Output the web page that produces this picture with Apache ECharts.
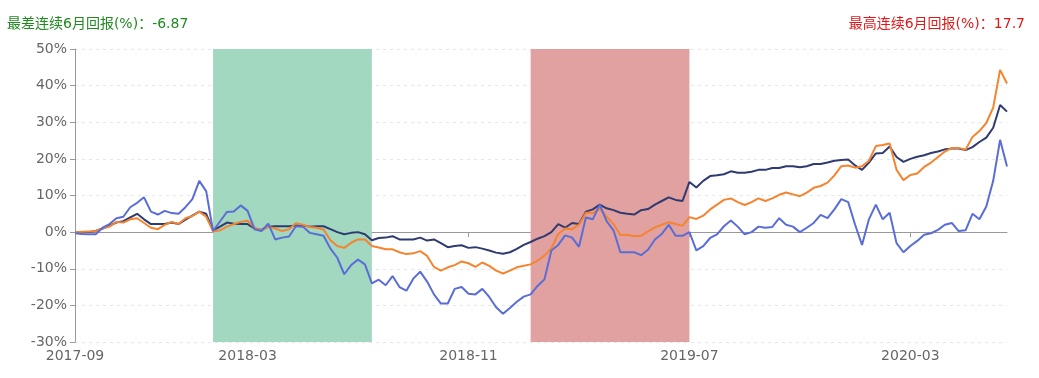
<!DOCTYPE html>
<html>
<head>
<meta charset="utf-8">
<script src="https://cdn.jsdelivr.net/npm/echarts@6/dist/echarts.min.js"></script>
<style>
  html, body { margin: 0; padding: 0; background: #fff; }
  #chart { width: 1039px; height: 378px; }
</style>
</head>
<body>
<div id="chart"></div>
<script>
// weekly sample dates (category axis)
const dates = [];
(function () {
  const d = new Date(Date.UTC(2017, 8, 22));
  for (let i = 0; i < 136; i++) {
    dates.push(d.toISOString().slice(0, 10));
    d.setUTCDate(d.getUTCDate() + 7);
  }
})();

// x-axis tick labels and the category index where each sits
const tickIdx = [0, 25, 57, 89, 121];
const tickLabels = ['2017-09', '2018-03', '2018-11', '2019-07', '2020-03'];

// shaded periods (category indices)
const worstRange = [20, 43];
const bestRange = [66, 89];

const worstText = '最差连续6月回报(%)：-6.87';
const bestText = '最高连续6月回报(%)：17.7';

// cumulative return, %
const navy = [
  0, -0.1, 0, 0.3, 1, 1.8, 2.6, 3, 4, 5, 3.5, 2.2, 2.2, 2.2, 2.6, 2.2, 3.4, 4.5, 5.6, 5,
  0.5, 1.5, 2.6, 2.3, 2.2, 2.2, 1, 0.6, 1.5, 1.6, 1.6, 1.6, 1.8, 1.8, 1.5, 1.6, 1.6, 0.8, 0, -0.6,
  -0.2, 0, -0.6, -2.2, -1.6, -1.5, -1.1, -2, -2, -2, -1.5, -2.3, -2, -3, -4.1, -3.8, -3.6, -4.3, -4.1, -4.5,
  -5, -5.6, -5.9, -5.5, -4.6, -3.5, -2.7, -1.8, -1.1, 0, 2.2, 1.2, 2.5, 2.2, 5.6, 6.2, 7.5, 6.5, 6, 5.3,
  5, 4.8, 6, 6.3, 7.5, 8.5, 9.5, 8.8, 8.5, 13.7, 12.2, 14, 15.3, 15.5, 15.8, 16.6, 16.2, 16.2, 16.5, 17,
  17, 17.5, 17.5, 18, 18, 17.7, 18, 18.6, 18.6, 19, 19.5, 19.7, 19.8, 18.2, 17, 19, 21.5, 21.6, 23.4, 20.5,
  19.2, 20, 20.6, 21, 21.6, 22, 22.6, 22.8, 22.8, 22.4, 23.2, 24.6, 25.8, 28.5, 34.7, 32.9
];
const orange = [
  0, 0.1, 0.2, 0.3, 1, 1.5, 2.8, 2.6, 3.5, 3.8, 2.5, 1.2, 0.8, 2, 2.8, 2.2, 3.8, 4.4, 5.6, 4.2,
  0.2, 0.5, 1.5, 2.2, 2.8, 3.1, 1.2, 0.5, 1.5, 1, 0.3, 0.8, 2.4, 2, 1.4, 1.2, 0.7, -2.2, -3.8, -4.3,
  -2.9, -2, -2, -3.8, -4.2, -4.7, -4.7, -5.5, -6, -5.8, -5.2, -6.5, -9.5, -10.5, -9.6, -9, -8, -8.5, -9.5, -8.3,
  -9.2, -10.5, -11.3, -10.5, -9.6, -9.2, -8.8, -7.8, -6.4, -4.4, -0.5, 1, 0.8, 2, 5.3, 5.2, 6.4, 4.2, 2.2, -0.8,
  -0.7, -1.1, -1, 0.2, 1.3, 2, 2.7, 2.2, 1.7, 4.1, 3.6, 4.5, 6.2, 7.5, 8.8, 9.2, 8.2, 7.4, 8.2, 9.2,
  8.5, 9.2, 10.2, 10.8, 10.3, 9.8, 10.8, 12.1, 12.6, 13.5, 15.5, 18, 18.2, 17.6, 18, 19.5, 23.5, 23.8, 24.2, 17,
  14.2, 15.6, 16, 17.8, 19, 20.5, 22, 23, 23, 22.5, 26, 27.6, 29.8, 34, 44.3, 40.6
];
const blue = [
  -0.3, -0.5, -0.6, -0.6, 1.2, 2.2, 3.8, 4.2, 6.8, 8, 9.5, 5.6, 4.8, 5.8, 5.2, 5, 6.8, 9, 14, 11.2,
  0.3, 2.9, 5.5, 5.6, 7.3, 5.8, 0.8, 0.3, 2.3, -2, -1.5, -1.2, 1.6, 1.5, -0.2, -0.6, -1, -4.5, -7, -11.5,
  -9, -7.5, -8.8, -14, -13, -14.5, -12, -15, -16, -12.7, -10.8, -13.5, -17, -19.5, -19.5, -15.5, -15, -16.8, -17, -15.5,
  -17.7, -20.5, -22.3, -20.7, -19, -17.6, -17, -14.7, -12.9, -5, -3.5, -0.9, -1.5, -4, 4, 3.5, 7.5, 3, 0.5, -5.5,
  -5.5, -5.5, -6.3, -4.8, -2, -0.5, 2, -1, -1, 0, -5, -3.8, -1.6, -0.6, 1.6, 3.2, 1.5, -0.6, 0, 1.5,
  1.2, 1.4, 3.8, 2, 1.5, 0, 1.2, 2.5, 4.7, 3.8, 6.2, 9, 8.2, 2, -3.5, 3.5, 7.5, 3.5, 5.3, -3,
  -5.5, -3.8, -2.4, -0.7, -0.3, 0.6, 2, 2.5, 0.3, 0.5, 5, 3.5, 7, 14, 25.2, 17.9
];

const chart = echarts.init(document.getElementById('chart'), null, { renderer: 'canvas' });
const font = "'DejaVu Sans', 'Noto Sans CJK SC', sans-serif";
const isTick = (idx) => tickIdx.indexOf(idx) >= 0;

chart.setOption({
  animation: false,
  backgroundColor: '#fff',
  title: [
    { text: worstText, left: 7, top: 17, padding: 0,
      textStyle: { color: '#1f8a1f', fontSize: 14, fontWeight: 'normal', fontFamily: font } },
    { text: bestText, right: 14, top: 17, padding: 0,
      textStyle: { color: '#e01818', fontSize: 14, fontWeight: 'normal', fontFamily: font } }
  ],
  grid: { left: 75, right: 32, top: 49, bottom: 36, containLabel: false },
  xAxis: {
    type: 'category',
    data: dates,
    boundaryGap: false,
    axisLine: { lineStyle: { color: '#999' } },
    axisTick: { interval: isTick, length: 5, lineStyle: { color: '#999' } },
    axisLabel: {
      interval: isTick,
      color: '#666',
      fontSize: 14,
      fontFamily: font,
      margin: 7,
      formatter: (v, idx) => tickLabels[tickIdx.indexOf(idx)] || ''
    },
    splitLine: { show: false }
  },
  yAxis: {
    type: 'value',
    min: -30,
    max: 50,
    interval: 10,
    axisLine: { show: true, lineStyle: { color: '#999' } },
    axisTick: { show: true, length: 5, lineStyle: { color: '#999' } },
    axisLabel: { color: '#666', fontSize: 14, fontFamily: font, margin: 8, formatter: '{value}%' },
    splitLine: { lineStyle: { color: '#e6e6e6', type: [3, 4] } }
  },
  series: [
    {
      name: 'navy',
      type: 'line',
      data: navy,
      symbol: 'none',
      lineStyle: { width: 2, color: '#2f3b70' },
      itemStyle: { color: '#2f3b70' },
      markArea: {
        silent: true,
        data: [
          [{ xAxis: dates[worstRange[0]], itemStyle: { color: '#a2d7c0' } }, { xAxis: dates[worstRange[1]] }],
          [{ xAxis: dates[bestRange[0]], itemStyle: { color: '#e2a1a1' } }, { xAxis: dates[bestRange[1]] }]
        ]
      }
    },
    {
      name: 'orange',
      type: 'line',
      data: orange,
      symbol: 'none',
      lineStyle: { width: 2, color: '#f5842f' },
      itemStyle: { color: '#f5842f' }
    },
    {
      name: 'blue',
      type: 'line',
      data: blue,
      symbol: 'none',
      lineStyle: { width: 2, color: '#5a6dd6' },
      itemStyle: { color: '#5a6dd6' }
    }
  ]
});
</script>
</body>
</html>
